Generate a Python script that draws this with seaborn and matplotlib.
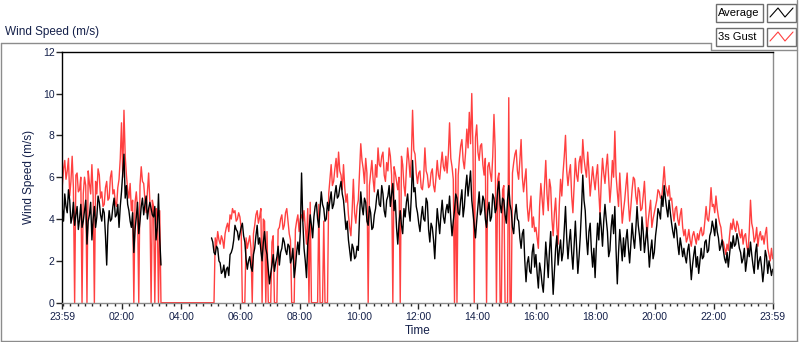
import numpy as np
import pandas as pd
import seaborn as sns
import matplotlib.pyplot as plt
import matplotlib.dates as mdates
from matplotlib.lines import Line2D
from matplotlib.patches import Rectangle

nan = np.nan

# wind speed in m/s, one sample every 2.5 minutes starting at 23:59, one row = 1 hour
avg_00_04 = [
    4.5, 3.9, 5.2, 4.6, 4.3, 5.4, 4.9, 3.8, 4.1, 4.8, 3.7, 4.2, 4.6, 3.5, 4.0, 4.7, 3.6, 3.9, 4.4, 4.9, 2.8, 3.9, 4.2, 4.8,
    3.0, 4.0, 4.6, 3.6, 4.1, 5.1, 4.8, 4.2, 3.9, 4.5, 4.3, 3.2, 1.8, 3.7, 4.4, 3.9, 4.0, 4.6, 5.0, 4.1, 4.2, 4.7, 3.6, 4.6,
    5.3, 6.2, 7.1, 5.0, 5.6, 4.7, 4.4, 3.9, 3.6, 4.3, 2.4, 3.5, 4.1, 4.8, 3.3, 3.9, 4.6, 5.0, 4.2, 4.7, 5.1, 4.0, 4.5, 4.8,
    4.5, 4.2, 4.1, 4.6, 3.0, 3.6, 5.2, 3.1, 1.8, nan, nan, nan, nan, nan, nan, nan, nan, nan, nan, nan, nan, nan, nan, nan,
]
avg_04_08 = [
    nan, nan, nan, nan, nan, nan, nan, nan, nan, nan, nan, nan, nan, nan, nan, nan, nan, nan, nan, nan, nan, nan, nan, nan,
    nan, 3.1, 2.9, 2.4, 2.3, 2.7, 2.6, 2.0, 1.9, 1.4, 1.5, 1.8, 1.2, 1.6, 1.7, 1.3, 2.3, 2.4, 2.6, 3.0, 3.7, 3.5, 3.4, 3.0,
    3.3, 3.6, 3.8, 3.2, 2.9, 2.1, 1.6, 2.0, 2.2, 1.7, 1.5, 2.3, 2.6, 3.2, 3.7, 2.8, 3.1, 2.5, 2.0, 2.9, 3.4, 2.6, 2.3, 1.6,
    0.9, 1.4, 1.8, 2.3, 1.5, 1.9, 2.2, 2.7, 1.8, 2.4, 2.6, 3.1, 2.9, 2.5, 2.3, 2.8, 2.7, 1.9, 2.1, 2.6, 1.2, 1.7, 2.4, 2.9,
]
avg_08_12 = [
    2.3, 3.4, 6.2, 3.9, 2.6, 2.0, 1.2, 2.8, 3.4, 4.2, 3.7, 3.1, 4.1, 4.6, 4.8, 4.0, 3.6, 4.5, 5.3, 4.7, 4.5, 3.9, 4.0, 4.8,
    4.4, 4.9, 5.3, 4.5, 4.7, 5.2, 5.6, 5.0, 5.1, 5.5, 5.8, 5.2, 4.9, 4.2, 3.5, 3.9, 3.0, 2.5, 2.0, 2.8, 2.6, 2.1, 2.2, 2.7,
    2.5, 4.1, 5.3, 4.6, 4.2, 5.0, 4.8, 3.9, 3.7, 4.6, 4.3, 3.5, 3.6, 4.2, 4.5, 5.1, 5.4, 4.7, 4.6, 5.6, 5.2, 4.4, 4.1, 4.9,
    5.1, 5.6, 4.6, 5.2, 5.7, 4.4, 4.9, 3.6, 2.8, 3.8, 4.4, 3.7, 3.3, 4.5, 4.1, 4.8, 5.2, 4.4, 3.9, 5.1, 6.8, 5.3, 5.5, 4.6,
]
avg_12_16 = [
    4.3, 3.8, 3.4, 4.1, 4.6, 4.0, 3.9, 5.0, 4.8, 3.5, 2.9, 3.8, 3.6, 3.0, 2.1, 3.4, 4.5, 3.9, 3.3, 4.2, 4.9, 4.1, 3.8, 4.4,
    4.7, 4.3, 5.1, 4.0, 3.2, 3.9, 4.4, 5.2, 5.0, 4.3, 4.2, 4.9, 5.4, 4.1, 4.6, 5.5, 6.1, 5.1, 5.7, 6.3, 4.9, 4.3, 3.7, 3.1,
    3.9, 4.6, 5.3, 4.2, 4.4, 5.1, 4.9, 4.0, 3.6, 4.4, 4.8, 3.9, 4.1, 5.2, 5.0, 4.3, 4.5, 5.4, 5.8, 4.7, 4.3, 5.0, 4.9, 4.2,
    3.8, 4.9, 5.6, 4.7, 4.4, 3.6, 3.3, 4.2, 4.7, 4.0, 3.9, 3.1, 2.6, 3.3, 3.5, 2.0, 1.0, 1.9, 2.2, 1.5, 1.4, 2.4, 2.8, 1.7,
]
avg_16_20 = [
    2.3, 1.4, 0.7, 1.9, 1.5, 0.9, 0.5, 1.6, 2.9, 2.1, 1.2, 2.5, 3.4, 1.8, 0.4, 1.5, 2.6, 3.2, 1.8, 2.5, 3.0, 2.0, 2.4, 3.5,
    4.6, 3.1, 2.1, 2.9, 3.5, 2.4, 1.6, 2.8, 3.9, 2.6, 1.4, 2.2, 3.2, 4.5, 6.1, 4.9, 4.4, 3.1, 2.3, 3.4, 3.8, 2.5, 1.7, 2.6,
    1.2, 2.7, 3.8, 3.0, 4.3, 3.6, 2.7, 3.9, 4.7, 4.0, 3.4, 2.2, 2.5, 3.6, 4.2, 3.3, 4.6, 2.5, 0.9, 2.4, 3.5, 2.8, 2.0, 3.1,
    2.2, 3.0, 3.5, 2.6, 1.9, 2.8, 3.8, 3.1, 2.6, 3.5, 4.6, 3.7, 3.2, 2.5, 4.1, 3.4, 2.4, 3.0, 3.6, 2.7, 1.7, 2.5, 3.0, 2.1,
]
avg_20_24 = [
    2.4, 3.2, 3.7, 4.5, 4.3, 4.0, 5.1, 4.6, 5.6, 5.0, 4.5, 4.1, 4.9, 4.3, 3.8, 3.4, 3.1, 3.8, 3.5, 2.8, 2.3, 3.1, 2.7, 2.2,
    2.6, 2.2, 1.9, 2.5, 2.8, 2.0, 1.1, 1.8, 2.3, 2.7, 1.7, 2.2, 1.4, 2.0, 2.6, 2.1, 2.2, 2.9, 3.0, 2.4, 2.5, 3.2, 3.4, 3.9,
    3.6, 3.2, 4.0, 3.4, 3.1, 2.5, 2.7, 3.0, 2.5, 2.1, 1.9, 2.4, 1.7, 2.3, 2.9, 2.6, 3.2, 2.7, 2.8, 3.3, 3.0, 2.6, 2.4, 1.9,
    2.1, 2.6, 1.5, 2.0, 2.6, 2.2, 2.9, 2.3, 1.8, 1.4, 2.4, 2.8, 1.6, 2.0, 2.2, 1.7, 1.0, 1.6, 2.5, 2.2, 1.4, 2.0, 1.7, 1.3,
    1.6,
]

gust_00_04 = [
    5.6, 6.4, 6.8, 5.9, 6.3, 6.9, 5.1, 5.8, 7.0, 5.5, 0.0, 6.1, 6.2, 5.3, 5.4, 6.0, 0.0, 5.2, 6.0, 5.6, 0.0, 6.3, 5.7, 5.2,
    6.6, 5.1, 0.0, 5.8, 5.2, 6.4, 6.1, 5.0, 5.3, 4.6, 4.7, 5.5, 5.8, 4.9, 5.0, 6.0, 6.3, 5.2, 5.4, 4.8, 4.6, 5.5, 5.9, 6.9,
    8.6, 6.0, 9.2, 7.0, 6.1, 5.4, 5.0, 5.7, 4.4, 4.9, 0.0, 4.8, 5.3, 4.5, 0.0, 5.6, 6.5, 5.8, 5.7, 4.9, 4.3, 5.3, 6.2, 4.8,
    0.0, 4.9, 4.6, 0.0, 4.5, 4.3, 0.0, 4.4, 0.0, 0.0, 0.0, 0.0, 0.0, 0.0, 0.0, 0.0, 0.0, 0.0, 0.0, 0.0, 0.0, 0.0, 0.0, 0.0,
]
gust_04_08 = [
    0.0, 0.0, 0.0, 0.0, 0.0, 0.0, 0.0, 0.0, 0.0, 0.0, 0.0, 0.0, 0.0, 0.0, 0.0, 0.0, 0.0, 0.0, 0.0, 0.0, 0.0, 0.0, 0.0, 0.0,
    0.0, 0.0, 0.0, 0.0, 3.1, 2.7, 3.4, 3.0, 2.8, 3.2, 3.0, 2.6, 3.3, 3.6, 3.8, 3.4, 4.2, 4.0, 4.5, 4.3, 4.4, 3.9, 4.0, 4.3,
    4.1, 3.6, 0.0, 0.0, 0.0, 3.1, 2.6, 2.9, 3.2, 2.6, 0.0, 3.3, 3.7, 4.2, 4.4, 3.8, 4.1, 4.5, 0.0, 4.0, 3.9, 0.0, 3.4, 0.0,
    0.0, 0.0, 2.9, 3.2, 0.0, 0.0, 0.0, 3.5, 3.6, 4.0, 4.2, 3.5, 3.7, 4.3, 4.5, 3.9, 3.3, 3.0, 0.0, 0.0, 0.0, 3.5, 3.9, 4.2,
]
gust_08_12 = [
    3.4, 4.0, 4.2, 3.9, 4.4, 3.6, 2.8, 4.5, 0.0, 4.8, 0.0, 0.0, 0.0, 0.0, 0.0, 0.0, 4.7, 0.0, 0.0, 0.0, 3.9, 0.0, 0.0, 0.0,
    5.2, 5.9, 6.6, 5.6, 5.8, 6.4, 6.9, 6.0, 7.2, 6.3, 6.1, 5.4, 6.6, 5.5, 4.8, 5.2, 4.2, 3.6, 3.2, 4.4, 5.9, 4.3, 3.8, 4.6,
    4.9, 6.2, 7.6, 6.8, 6.4, 5.7, 6.9, 6.2, 0.0, 5.6, 6.2, 6.8, 5.9, 5.3, 6.6, 6.0, 7.4, 6.6, 6.5, 7.0, 7.2, 6.1, 5.8, 6.7,
    6.3, 7.4, 7.0, 6.1, 0.0, 6.5, 6.2, 5.8, 5.4, 6.0, 0.0, 7.0, 6.6, 5.6, 5.1, 6.4, 7.4, 6.8, 6.0, 6.9, 9.2, 7.3, 7.1, 6.2,
]
gust_12_16 = [
    5.7, 6.2, 6.3, 5.5, 5.4, 6.0, 7.4, 6.3, 6.1, 5.5, 5.6, 6.2, 6.4, 5.6, 5.3, 6.0, 6.8, 6.1, 5.9, 6.6, 7.2, 6.5, 6.3, 7.0,
    6.2, 7.1, 8.6, 6.9, 6.5, 5.9, 0.0, 6.4, 0.0, 6.1, 6.9, 7.5, 7.8, 6.8, 6.4, 7.2, 8.3, 7.4, 9.1, 7.6, 10.0, 7.3, 0.0, 7.9,
    8.5, 7.2, 6.8, 7.5, 7.6, 6.6, 6.1, 6.9, 0.0, 6.5, 6.7, 6.2, 5.8, 7.0, 9.0, 7.3, 0.0, 5.9, 6.2, 0.0, 0.0, 5.4, 5.6, 0.0,
    0.0, 0.0, 9.8, 0.0, 0.0, 6.2, 6.7, 7.1, 7.3, 6.3, 5.9, 6.8, 7.8, 6.0, 5.3, 5.9, 6.4, 4.6, 3.9, 4.5, 5.1, 3.6, 4.1, 3.4,
]
gust_16_20 = [
    3.6, 3.1, 2.6, 4.6, 5.7, 5.0, 4.2, 5.6, 6.8, 5.2, 4.4, 5.9, 5.5, 4.0, 3.2, 4.3, 5.0, 3.6, 2.8, 4.7, 5.9, 5.1, 6.2, 7.0,
    8.0, 6.3, 5.6, 6.2, 6.6, 5.1, 4.3, 5.6, 6.9, 6.1, 5.8, 6.7, 7.0, 6.2, 7.8, 6.9, 6.4, 6.0, 7.2, 6.3, 5.1, 5.8, 6.5, 5.9,
    5.4, 6.1, 6.6, 5.3, 4.2, 5.8, 6.9, 6.2, 5.7, 6.5, 7.1, 5.9, 4.8, 5.6, 6.8, 6.0, 8.2, 6.1, 5.3, 4.6, 6.2, 5.0, 3.8, 4.4,
    4.9, 5.6, 6.2, 4.8, 3.9, 4.6, 5.4, 6.0, 5.9, 5.1, 4.7, 5.5, 5.3, 4.4, 4.5, 5.1, 5.8, 4.6, 3.1, 3.9, 4.4, 4.9, 3.6, 4.0,
]
gust_20_24 = [
    4.3, 4.6, 4.9, 5.4, 5.3, 5.0, 5.0, 5.7, 6.5, 5.6, 5.4, 5.1, 5.6, 4.9, 5.0, 4.4, 3.9, 4.5, 4.6, 4.0, 3.7, 4.2, 4.5, 3.6,
    3.2, 3.5, 2.9, 3.1, 3.5, 3.0, 2.7, 3.2, 3.4, 3.1, 2.8, 3.3, 3.0, 3.4, 3.6, 3.2, 3.3, 3.9, 4.6, 4.0, 3.9, 4.5, 5.5, 4.6,
    4.7, 4.3, 5.1, 4.5, 4.1, 3.8, 3.6, 3.0, 2.9, 2.6, 2.3, 2.8, 2.5, 3.2, 3.8, 3.5, 4.0, 3.6, 3.4, 3.9, 3.7, 3.3, 3.1, 3.5,
    2.8, 3.2, 3.3, 2.7, 2.4, 3.4, 4.9, 3.8, 3.5, 2.9, 3.1, 3.6, 2.7, 3.2, 3.4, 3.0, 3.2, 2.8, 3.3, 3.6, 2.6, 2.3, 2.0, 2.6,
    2.1,
]

tick_labels = ["23:59", "02:00", "04:00", "06:00", "08:00", "10:00", "12:00",
               "14:00", "16:00", "18:00", "20:00", "22:00", "23:59"]
series_names = ["Average", "3s Gust"]
series_colors = ["black", "#ff4040"]

avg = avg_00_04 + avg_04_08 + avg_08_12 + avg_12_16 + avg_16_20 + avg_20_24
gust = gust_00_04 + gust_04_08 + gust_08_12 + gust_12_16 + gust_16_20 + gust_20_24

start = pd.Timestamp("2024-01-01 23:59")
times = start + pd.to_timedelta(np.arange(len(avg)) * 150, unit="s")
df = pd.DataFrame({"time": times, "Average": avg, "3s Gust": gust})
df["seg"] = df["Average"].isna().cumsum()

sns.set_style("white")
plt.rcParams["font.family"] = ["Liberation Sans", "DejaVu Sans"]
txt_col = "#14204a"

W, H = 800, 342
fig = plt.figure(figsize=(W / 100, H / 100), dpi=100)


def fx(x):
    return x / W


def fy(y):
    return 1 - y / H


ax = fig.add_axes([fx(62.3), fy(302.7), fx(772.7) - fx(62.3), fy(51.7) - fy(302.7)])

sns.lineplot(data=df, x="time", y="3s Gust", color=series_colors[1], lw=1.0,
             errorbar=None, ax=ax)
sns.lineplot(data=df, x="time", y="Average", units="seg", estimator=None,
             color=series_colors[0], lw=1.0, ax=ax)

ax.set_ylim(0, 12)
ax.set_yticks(range(0, 13, 2))
ax.set_xlim(times[0], times[-1])
day2 = start.normalize() + pd.Timedelta(days=1)
major = [start] + list(pd.date_range(day2 + pd.Timedelta(hours=2),
                                     day2 + pd.Timedelta(hours=22), freq="2h")) + [times[-1]]
ax.set_xticks(mdates.date2num(major))
ax.set_xticklabels(tick_labels)
ax.xaxis.set_minor_locator(mdates.MinuteLocator(byminute=[0, 15, 30, 45]))
ax.tick_params(axis="x", which="major", length=4, width=1, direction="out",
               labelsize=7.5, labelcolor=txt_col, pad=3, bottom=True)
ax.tick_params(axis="x", which="minor", length=2, width=1, direction="out", bottom=True)
ax.tick_params(axis="y", length=4, width=1, direction="out", labelsize=7.5,
               labelcolor=txt_col, pad=1.5, left=True)
ax.set_xlabel("Time", fontsize=8.5, color=txt_col, labelpad=2)
ax.set_ylabel("Wind Speed (m/s)", fontsize=8.5, color=txt_col, labelpad=6)
ax.grid(False)
for side in ["left", "top"]:
    ax.spines[side].set_color("black")
for side in ["right", "bottom"]:
    ax.spines[side].set_color("#8c8c8c")
for s in ax.spines.values():
    s.set_linewidth(1)

# outer panel frame
frame = "#8c8c8c"
for (x0, y0, x1, y1) in [(0.5, 43, 711, 43), (711, 43, 711, 50), (711, 50, 797, 50),
                         (797, 0, 797, 342), (0.5, 43, 0.5, 341), (0.5, 341, 797, 341)]:
    fig.add_artist(Line2D([fx(x0), fx(x1)], [fy(y0), fy(y1)], color=frame, lw=1))

fig.text(fx(5), fy(32), "Wind Speed (m/s)", fontsize=8.5, color=txt_col, va="center", ha="left")

# legend boxes
for i, (name, col) in enumerate(zip(series_names, series_colors)):
    top = 4 + 24 * i
    fig.add_artist(Rectangle((fx(715.5), fy(top + 18)), fx(47), fy(top) - fy(top + 18),
                             fill=False, ec="#6e6e6e", lw=1))
    fig.add_artist(Rectangle((fx(766.5), fy(top + 18)), fx(29), fy(top) - fy(top + 18),
                             fill=False, ec="#6e6e6e", lw=1))
    fig.text(fx(718), fy(top + 9.5), name, fontsize=8, color="black", va="center", ha="left")
    zx = [770, 778, 785, 793]
    zy = [top + 13, top + 4, top + 13, top + 4]
    fig.add_artist(Line2D([fx(v) for v in zx], [fy(v) for v in zy], color=col, lw=0.8))

fig.savefig("out.png", dpi=100)
